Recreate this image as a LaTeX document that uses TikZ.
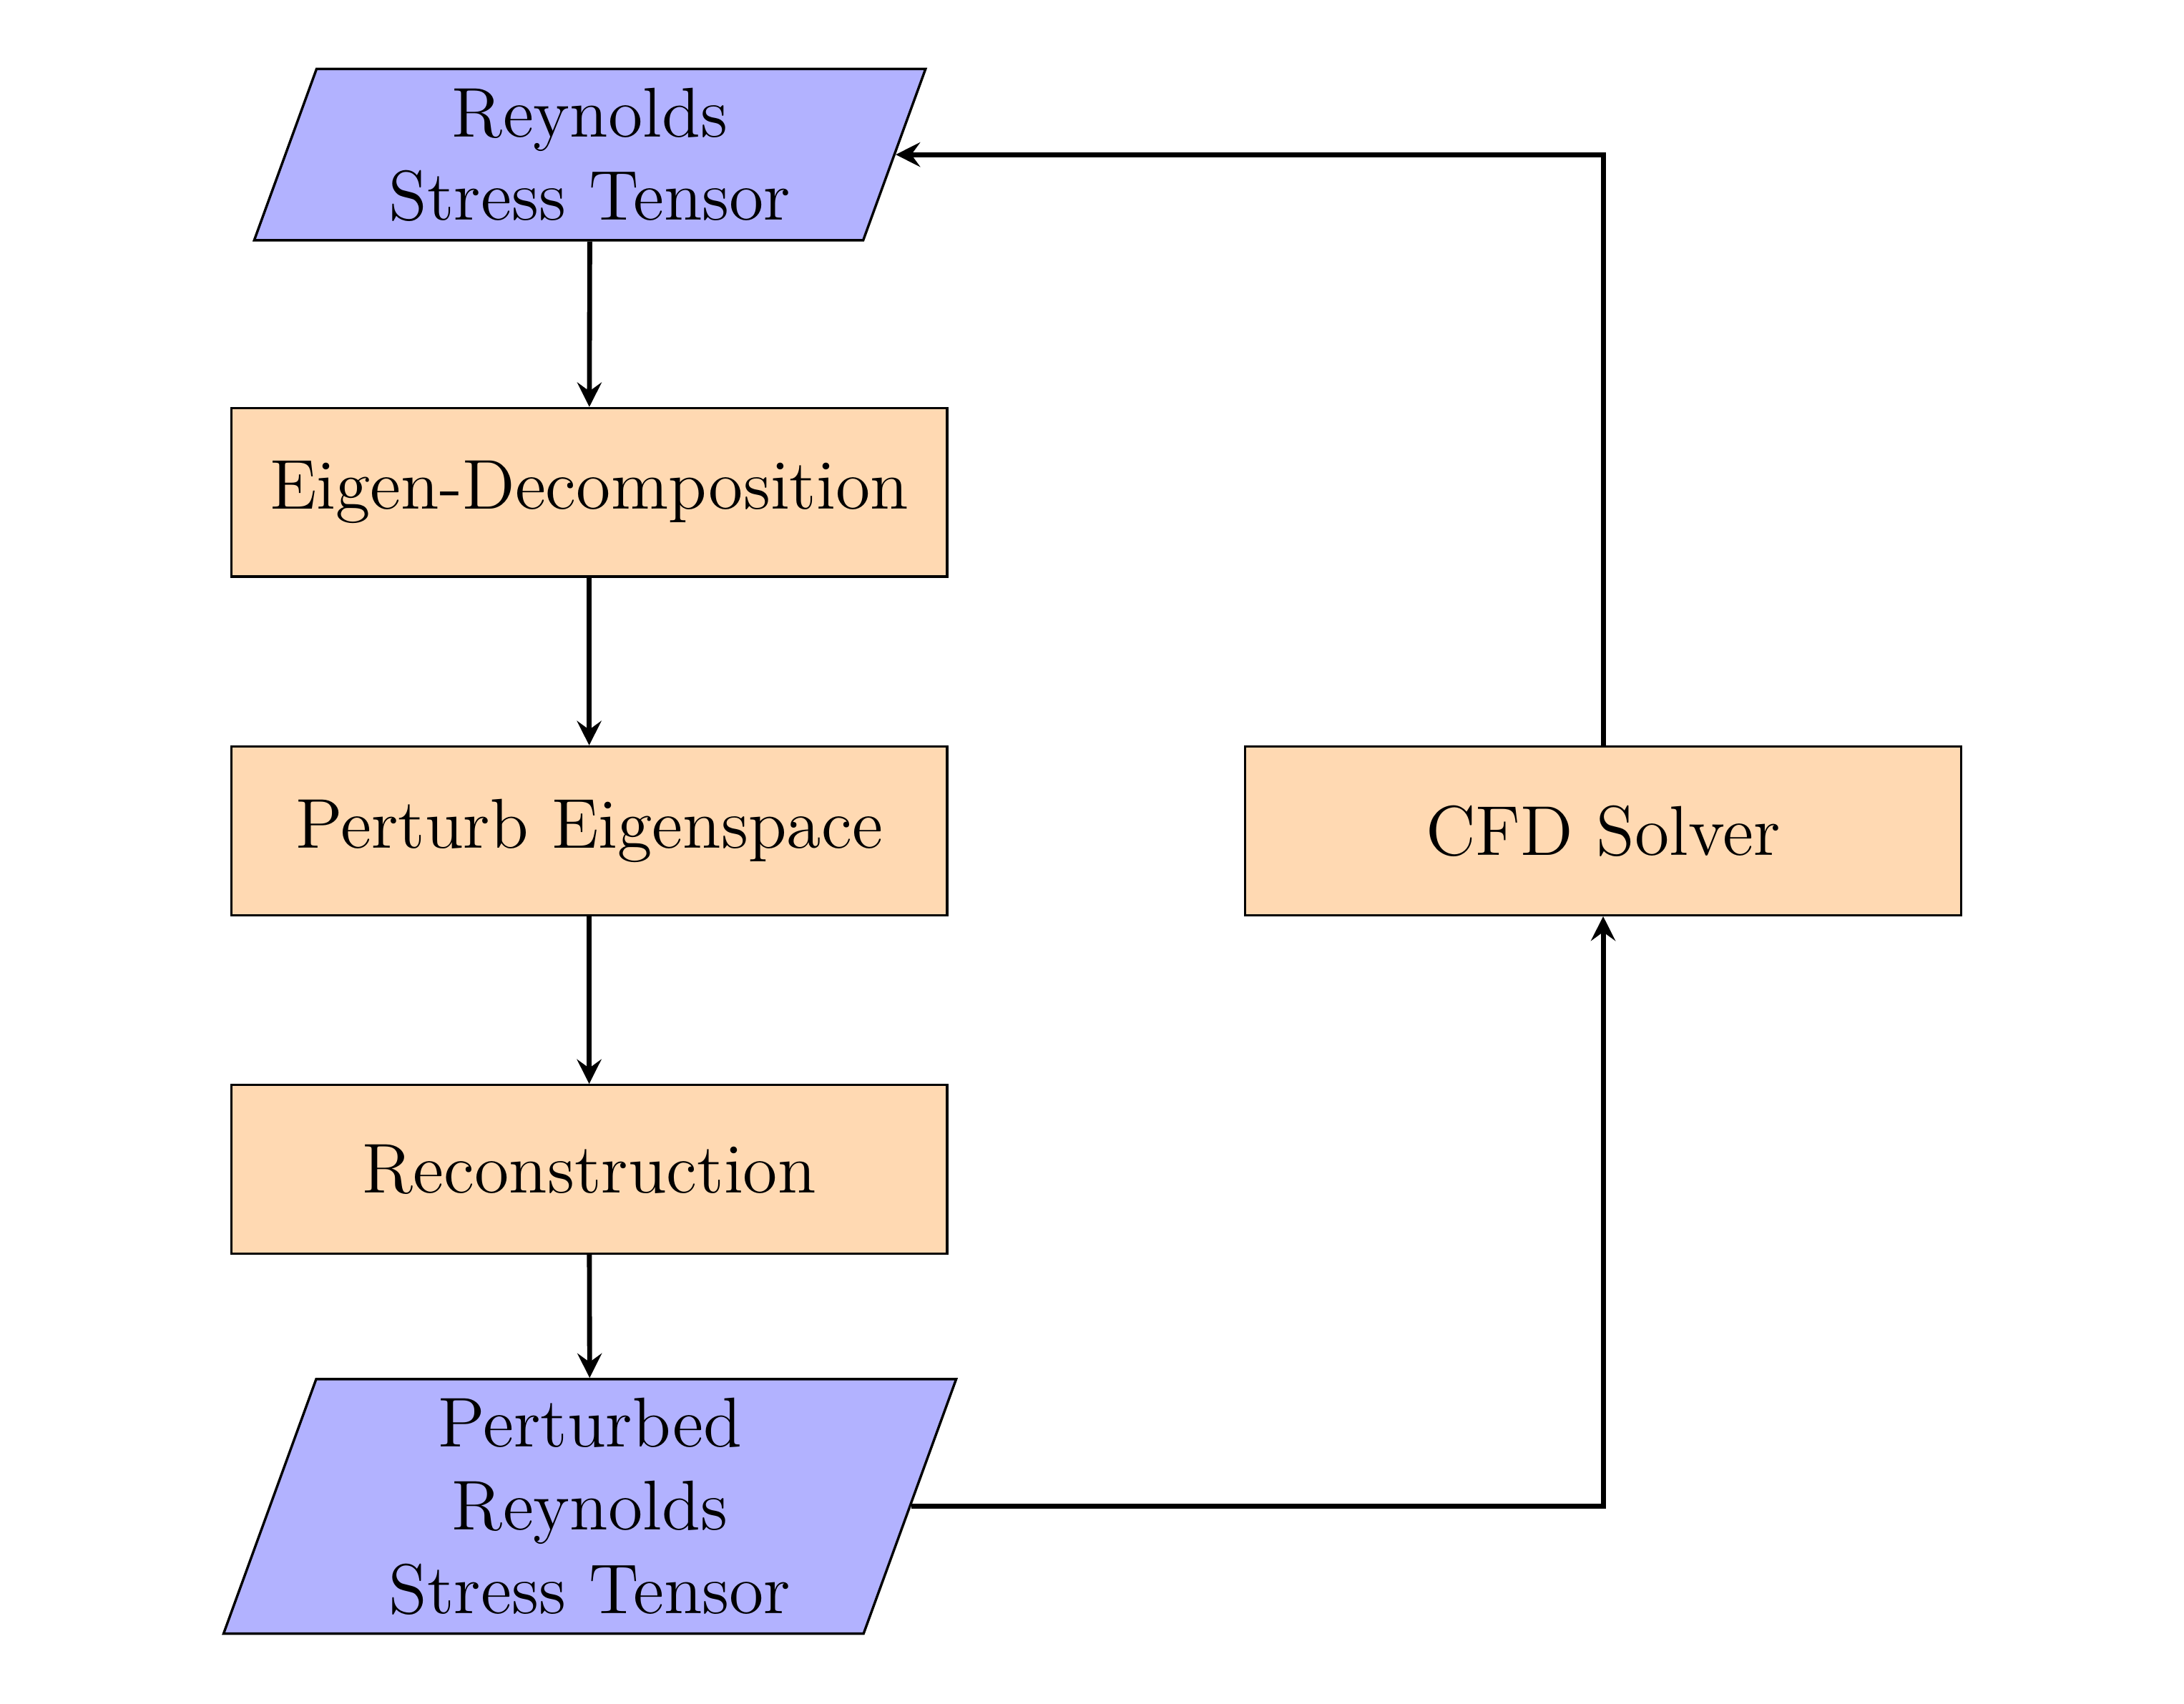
\documentclass[tikz,border=0pt]{standalone}
\usetikzlibrary{shapes.geometric,arrows.meta}
\begin{document}
\begin{tikzpicture}[x=0.1mm,y=-0.1mm,
  txt/.style={font=\fontsize{14.4}{17}\selectfont, align=center, inner sep=0pt},
  procbox/.style={txt, draw=black, line width=0.5pt, fill=orange!30,
    minimum width=51.4mm, minimum height=12.1mm},
  iobox/.style={txt, draw=black, line width=0.5pt, fill=blue!30,
    trapezium, trapezium left angle=70, trapezium right angle=110,
    trapezium stretches body, inner ysep=3.85pt},
  arr/.style={-{Stealth[length=5pt,width=5pt,inset=1.8pt]}, line width=1pt}]
\useasboundingbox (0,0) rectangle (1568,1223);
\node[iobox, minimum width=48.2mm] (rst) at (423.5,111) {Reynolds\\Stress Tensor};
\node[procbox] (eig) at (423,353.5) {Eigen-Decomposition};
\node[procbox] (per) at (423,596.5) {Perturb Eigenspace};
\node[procbox] (rec) at (423,839.5) {Reconstruction};
\node[iobox, minimum width=52.6mm] (prst) at (423.5,1081.5) {Perturbed\\Reynolds\\Stress Tensor};
\node[procbox] (cfd) at (1151,596.5) {CFD Solver};
\draw[arr] (rst) -- (eig);
\draw[arr] (eig) -- (per);
\draw[arr] (per) -- (rec);
\draw[arr] (rec) -- (prst);
\draw[arr] (prst.east) -| (cfd.south);
\draw[arr] (cfd.north) |- (rst.east);
\end{tikzpicture}
\end{document}
